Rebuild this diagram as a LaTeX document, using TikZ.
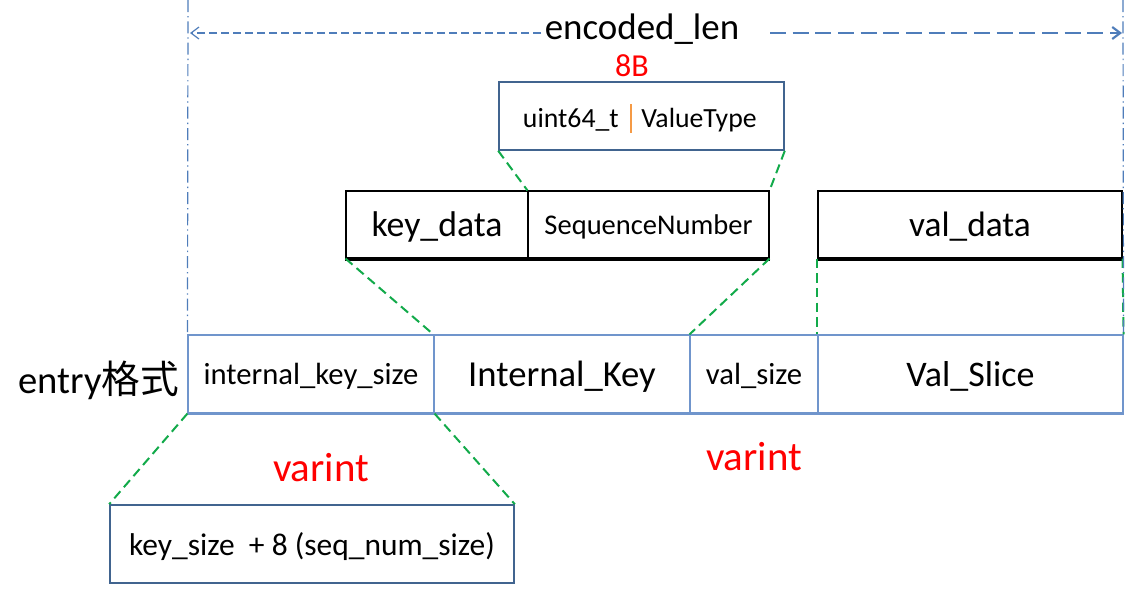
\documentclass[tikz,border=0pt]{standalone}
\usepackage{fontspec}
\setmainfont{Carlito}
\newfontfamily\cjk{Noto Sans CJK SC}
\usetikzlibrary{arrows.meta}
\definecolor{framebl}{HTML}{41648F}
\definecolor{cellbl}{HTML}{7095CC}
\definecolor{lenbl}{HTML}{4F7DBA}
\definecolor{zoomgr}{HTML}{12AA4A}
\definecolor{sepor}{HTML}{F59A45}
\tikzset{>={Straight Barb[length=6pt,width=9pt]}}
\tikzset{
  cell/.style={draw=cellbl, line width=0.8pt, inner sep=0pt, minimum height=58.5pt, text depth=0pt},
  blk/.style={draw=black, line width=0.8pt, inner sep=0pt, minimum height=50.25pt, text depth=0pt},
  zoomline/.style={draw=zoomgr, line width=1.5pt, dash pattern=on 7pt off 4pt},
  guide/.style={draw=lenbl, line width=0.9pt, dash pattern=on 9pt off 3pt on 1pt off 3pt},
  redtxt/.style={text=red}
}

\begin{document}
\begin{tikzpicture}[x=0.75pt,y=-0.75pt]
\useasboundingbox (0,0) rectangle (1139,590);

%Entry row
\node [cell, minimum width=184.5pt] (iks) at (311,374) {\fontsize{23}{26}\selectfont internal\_key\_size};
\node [cell, minimum width=192pt] (ik) at (562,374) {\fontsize{27.5}{31}\selectfont Internal\_Key};
\node [cell, minimum width=96pt] (vsz) at (754,374) {\fontsize{23}{26}\selectfont val\_size};
\node [cell, minimum width=228.75pt] (vsl) at (970.5,374) {\fontsize{27}{31}\selectfont Val\_Slice};
\draw [draw=cellbl, line width=2.2pt] (iks.south west) -- (vsl.south east);
\node (entry) at (99,380) {\fontsize{29}{33}\selectfont entry{\cjk 格式}};

%Internal key and value
\node [blk, minimum width=136.5pt] (kd) at (437,224.5) {\fontsize{26.8}{30}\selectfont key\_data};
\node [blk, minimum width=180.75pt] (sn) at (648.5,224.5) {\fontsize{21.4}{24}\selectfont SequenceNumber};
\node [blk, minimum width=228pt] (vd) at (970,224.5) {\fontsize{26.5}{30}\selectfont val\_data};
\draw [line width=3pt] (kd.south west) -- (sn.south east);
\draw [line width=3pt] (vd.south west) -- (vd.south east);

%Sequence number
\node [draw=framebl, line width=1.2pt, inner sep=0pt, minimum width=213.75pt, minimum height=51pt] (seq) at (641.5,116) {};
\node [anchor=east, inner sep=0pt] (u64) at (619,120) {\fontsize{20.8}{24}\selectfont uint64\_t};
\node [anchor=west, inner sep=0pt] (vt) at (641,120) {\fontsize{20.8}{24}\selectfont ValueType};
\draw [draw=sepor, line width=1.3pt] (631,104) -- (631,133);
\node [redtxt] (eight) at (632,66) {\fontsize{24}{28}\selectfont 8B};

%Key size
\node [draw=framebl, line width=1.2pt, inner sep=0pt, minimum width=303pt, minimum height=58.5pt, text depth=0pt] (ks) at (312,544) {\fontsize{23.6}{27}\selectfont key\_size~ + 8 (seq\_num\_size)};
\node [redtxt] (vi1) at (321,468) {\fontsize{30.7}{35}\selectfont varint};
\node [redtxt] (vi2) at (754,457) {\fontsize{30.7}{35}\selectfont varint};

%Zoom lines
\draw [zoomline] (seq.south west) -- (sn.north west);
\draw [zoomline] (seq.south east) -- (sn.north east);
\draw [zoomline] (kd.south west) -- (ik.north west);
\draw [zoomline] (sn.south east) -- (vsz.north west);
\draw [zoomline] (vd.south west) -- (vsl.north west);
\draw [zoomline] (vd.south east) -- (vsl.north east);
\draw [zoomline] (iks.south west) -- (ks.north west);
\draw [zoomline] (iks.south east) -- (ks.north east);

%Encoded length
\coordinate (tl) at (188,0);
\coordinate (tr) at (1123,0);
\draw [guide] (tl) -- (iks.north west);
\draw [guide] (tr) -- (vsl.north east);
\node (len) at (642,29) {\fontsize{27.7}{31}\selectfont encoded\_len};
\draw [draw=lenbl, line width=0.9pt, dash pattern=on 6pt off 3pt, ->] (541,33) -- (190,33);
\draw [draw=lenbl, line width=1.6pt, dash pattern=on 12pt off 5pt, ->] (770,33) -- (1122,33);

\end{tikzpicture}
\end{document}
